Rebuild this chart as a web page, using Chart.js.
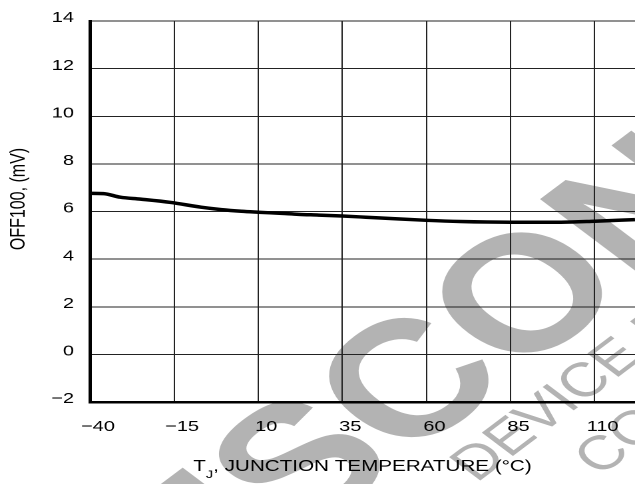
<!DOCTYPE html>
<html>
<head>
<meta charset="utf-8">
<script src="https://cdn.jsdelivr.net/npm/chart.js@4"></script>
<style>
  html, body { margin: 0; padding: 0; background: #fff; }
  /* the reference is stretched sideways, so draw narrow and widen */
  #wrap { width: 477px; height: 484px; transform: scaleX(1.3312); transform-origin: 0 0; }
</style>
</head>
<body>
<div id="wrap"><canvas id="offChart" width="477" height="484"></canvas></div>
<script>
// junction temperature (°C) and OFF100 (mV)
const temps  = [-40, -36, -31, -25, -16, -7, -1, 5, 10, 17, 22, 28, 35, 42, 50, 60, 70, 85, 100, 110, 122];
const offset = [6.76, 6.75, 6.60, 6.52, 6.38, 6.18, 6.08, 6.01, 5.97, 5.92, 5.88, 5.85, 5.81, 5.76, 5.70, 5.63, 5.58, 5.55, 5.55, 5.59, 5.66];

const xTicks = [-40, -15, 10, 35, 60, 85, 110];
const yTicks = [-2, 0, 2, 4, 6, 8, 10, 12, 14];

const xTitle = ['T', 'J', ', JUNCTION TEMPERATURE (\u00B0C)'];
const yTitle = 'OFF100, (mV)';
const watermark = ['DISCONTINUED', 'DEVICE NOT AVAILABLE', 'CONTACT SALES'];

const FONT = "'Liberation Sans', Arial, Helvetica, sans-serif";
const signed = v => v < 0 ? '\u2212' + Math.abs(v) : String(v);

// grey stamp behind everything
const watermarkPlugin = {
  id: 'watermark',
  beforeDraw(chart) {
    const ctx = chart.ctx;
    ctx.save();
    ctx.fillStyle = '#b3b3b3';
    ctx.translate(232, 469);
    ctx.rotate(-Math.PI / 4);
    ctx.textAlign = 'left';
    ctx.textBaseline = 'middle';
    ctx.font = 'bold 165px ' + FONT;
    ctx.fillText(watermark[0], -220, 0);
    ctx.font = '48px ' + FONT;
    ctx.fillText(watermark[1], 79, 86);
    ctx.fillText(watermark[2], 149, 147);
    ctx.restore();
  }
};

// axis titles (x title needs the subscript J)
const titlePlugin = {
  id: 'axisTitles',
  afterDraw(chart) {
    const { ctx, chartArea } = chart;
    const big = '15.5px ' + FONT, small = '11px ' + FONT;
    ctx.save();
    ctx.fillStyle = '#000';
    ctx.textAlign = 'left';
    ctx.textBaseline = 'alphabetic';
    ctx.font = big;
    const w0 = ctx.measureText(xTitle[0]).width;
    const w2 = ctx.measureText(xTitle[2]).width;
    ctx.font = small;
    const w1 = ctx.measureText(xTitle[1]).width;
    let x = (chartArea.left + chartArea.right) / 2 - (w0 + w1 + w2) / 2;
    const base = 471;
    ctx.font = big;
    ctx.fillText(xTitle[0], x, base);
    x += w0;
    ctx.font = small;
    ctx.fillText(xTitle[1], x, base + 7);
    x += w1;
    ctx.font = big;
    ctx.fillText(xTitle[2], x, base);

    ctx.translate(14, 199);
    ctx.rotate(-Math.PI / 2);
    ctx.font = '16px ' + FONT;
    ctx.textAlign = 'center';
    ctx.textBaseline = 'middle';
    ctx.fillText(yTitle, 0, 0);
    ctx.restore();
  }
};

new Chart(document.getElementById('offChart'), {
  type: 'line',
  data: {
    datasets: [{
      data: temps.map((t, i) => ({ x: t, y: offset[i] })),
      borderColor: '#000',
      borderWidth: 3.5,
      pointRadius: 0,
      cubicInterpolationMode: 'monotone',
      fill: false
    }]
  },
  options: {
    responsive: false,
    animation: false,
    devicePixelRatio: 2,
    layout: { padding: { top: 17, right: 0, bottom: 0, left: 0 } },
    plugins: {
      legend: { display: false },
      tooltip: { enabled: false }
    },
    scales: {
      x: {
        type: 'linear',
        min: -40,
        max: 122,
        afterBuildTicks: s => { s.ticks = xTicks.map(v => ({ value: v })); },
        afterFit: s => { s.height = 82; },
        grid: { color: '#222', lineWidth: 1, drawTicks: false },
        border: { color: '#000', width: 2.5 },
        ticks: {
          padding: 16,
          labelOffset: 6,
          color: '#000',
          maxRotation: 0,
          autoSkip: false,
          font: { family: FONT, size: 15 },
          callback: v => signed(v)
        }
      },
      y: {
        min: -2,
        max: 14,
        afterBuildTicks: s => { s.ticks = yTicks.map(v => ({ value: v })); },
        afterFit: s => { s.width = 67.6; },
        grid: { color: '#222', lineWidth: 1, drawTicks: false },
        border: { color: '#000', width: 2.5 },
        ticks: {
          padding: 12,
          labelOffset: -3,
          color: '#000',
          font: { family: FONT, size: 15 },
          callback: v => signed(v)
        }
      }
    }
  },
  plugins: [watermarkPlugin, titlePlugin]
});
</script>
</body>
</html>
